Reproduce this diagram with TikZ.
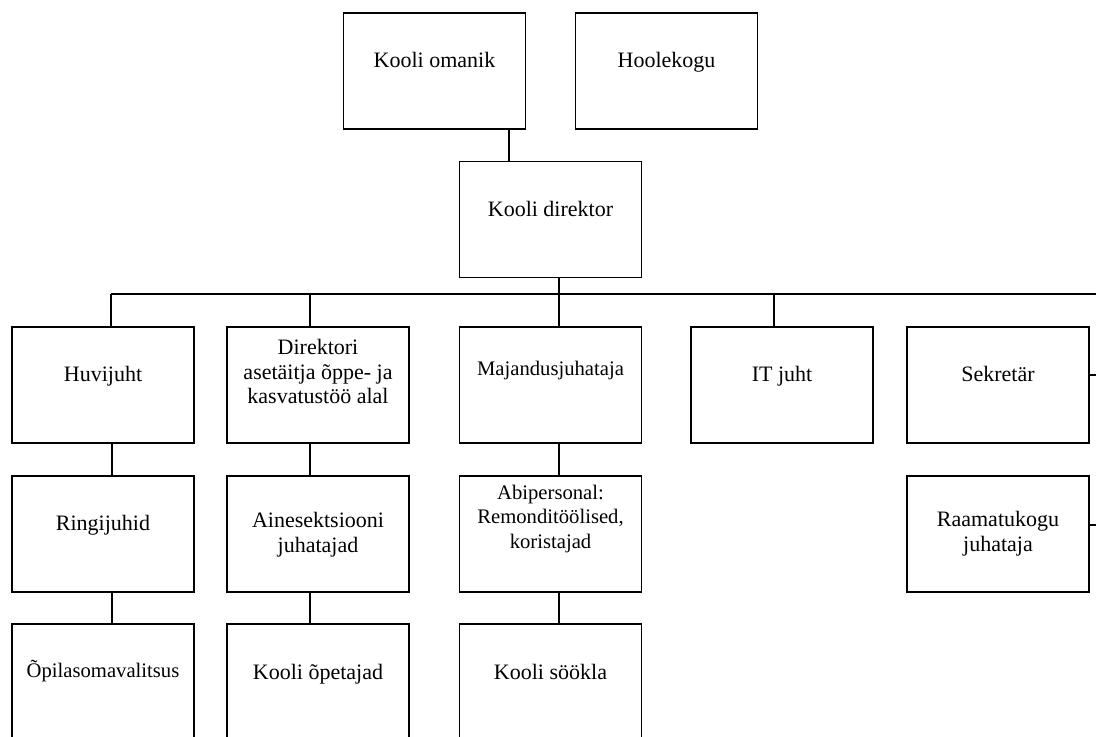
\documentclass[tikz,border=0pt]{standalone}
\usepackage{fontspec}
\setmainfont{Liberation Serif}
\begin{document}
\begin{tikzpicture}[x=0.75pt,y=-0.75pt,
  box/.style={draw=black,line width=1.45pt,minimum width=136.5pt,minimum height=87pt,inner sep=0pt},
  txt/.style={font=\fontsize{16.5}{18.4}\selectfont,align=center,inner sep=0pt,anchor=base},
  stxt/.style={font=\fontsize{15.5}{18.4}\selectfont,align=center,inner sep=0pt,anchor=base},
  link/.style={line width=1.45pt}]
\useasboundingbox (0,0) rectangle (1096,737);
\fill[white] (0,0) rectangle (1096,737);
\clip (0,0) rectangle (1096,737);
% boxes
\node[box] (omanik) at (434.5,71) {};
\node[box] (hoolekogu) at (666.5,71) {};
\node[box] (direktor) at (550.5,219.5) {};
\node[box] (huvijuht) at (103,385) {};
\node[box] (asetaitja) at (318,385) {};
\node[box] (majandus) at (550.5,385) {};
\node[box] (itjuht) at (782,385) {};
\node[box] (sekretar) at (998,385) {};
\node[box] (ringijuhid) at (103,534) {};
\node[box] (ainesekt) at (318,534) {};
\node[box] (abipersonal) at (550.5,534) {};
\node[box] (raamatukogu) at (998,534) {};
\node[box] (opilas) at (103,682) {};
\node[box] (opetajad) at (318,682) {};
\node[box] (sookla) at (550.5,682) {};
% texts (positions are baselines of the last line)
\node[txt] (tomanik) at (434.5,67.7) {Kooli omanik};
\node[txt] (thoolekogu) at (666.5,67.7) {Hoolekogu};
\node[txt] (tdirektor) at (550.5,217) {Kooli direktor};
\node[txt] (thuvi) at (103,382) {Huvijuht};
\node[txt] (tasetaitja) at (318,404) {Direktori\\asetäitja õppe- ja\\kasvatustöö alal};
\node[stxt] (tmajandus) at (550.5,376) {Majandusjuhataja};
\node[txt] (tit) at (782,382) {IT juht};
\node[txt] (tsekretar) at (998,382) {Sekretär};
\node[txt] (tring) at (103,531) {Ringijuhid};
\node[txt] (taine) at (318,552) {Ainesektsiooni\\juhatajad};
\node[stxt] (tabi) at (550.5,548.3) {Abipersonal:\\Remonditöölised,\\koristajad};
\node[txt] (traamat) at (998,551.5) {Raamatukogu\\juhataja};
\node[stxt] (topilas) at (103,677) {Õpilasomavalitsus};
\node[txt] (topetajad) at (318,679) {Kooli õpetajad};
\node[txt] (tsookla) at (550.5,679) {Kooli söökla};
% helper coordinates
\coordinate (xa) at (509,0);
\coordinate (busL) at (111,294);
\coordinate (busR) at (1096,294);
\coordinate (k2) at (310,0);
\coordinate (k3) at (559,0);
\coordinate (k4) at (774,0);
\coordinate (v1) at (112,0);
\coordinate (edge) at (1096,0);
\coordinate (s1) at (0,375);
\coordinate (s2) at (0,525);
% connectors
\draw[link] (omanik.south -| xa) -- (direktor.north -| xa);
\draw[link] (direktor.south -| k3) -- (busL -| k3);
\draw[link] (busL) -- (busR);
\draw[link] (busL) -- (huvijuht.north -| busL);
\draw[link] (busL -| k2) -- (asetaitja.north -| k2);
\draw[link] (busL -| k3) -- (majandus.north -| k3);
\draw[link] (busL -| k4) -- (itjuht.north -| k4);
\draw[link] (huvijuht.south -| v1) -- (ringijuhid.north -| v1);
\draw[link] (ringijuhid.south -| v1) -- (opilas.north -| v1);
\draw[link] (asetaitja.south -| k2) -- (ainesekt.north -| k2);
\draw[link] (ainesekt.south -| k2) -- (opetajad.north -| k2);
\draw[link] (majandus.south -| k3) -- (abipersonal.north -| k3);
\draw[link] (abipersonal.south -| k3) -- (sookla.north -| k3);
\draw[link] (sekretar.east |- s1) -- (edge |- s1);
\draw[link] (raamatukogu.east |- s2) -- (edge |- s2);
\end{tikzpicture}
\end{document}
